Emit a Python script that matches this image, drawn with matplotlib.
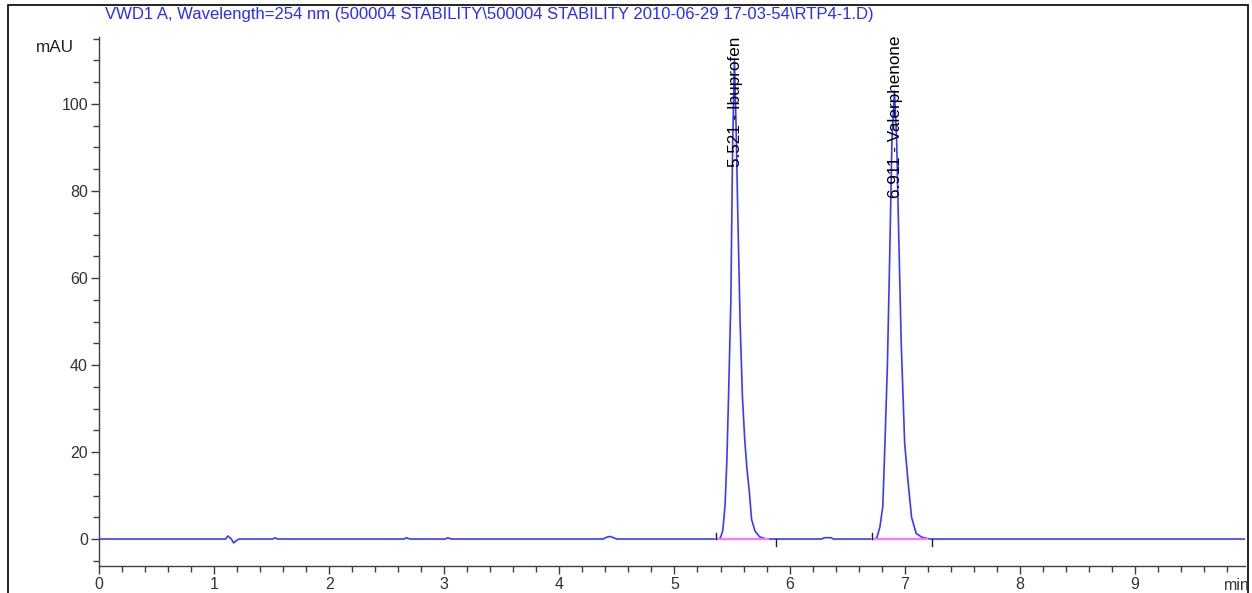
import matplotlib
matplotlib.use("Agg")
import matplotlib.pyplot as plt
from matplotlib.patches import Rectangle
from matplotlib.ticker import MultipleLocator

plt.rcParams['font.family'] = ['Liberation Sans', 'DejaVu Sans']

# signal trace (min, mAU)
trace_t = [0.00, 1.10, 1.12, 1.15, 1.17, 1.20, 1.22, 1.51, 1.53, 1.55,
           2.65, 2.67, 2.70, 3.01, 3.03, 3.06, 4.38, 4.41, 4.44, 4.47, 4.50,
           5.38, 5.40, 5.42, 5.44, 5.455, 5.47, 5.49, 5.505, 5.521, 5.535,
           5.55, 5.57, 5.59, 5.61, 5.63, 5.65, 5.67, 5.70, 5.74, 5.80,
           6.28, 6.30, 6.36, 6.38,
           6.74, 6.76, 6.785, 6.81, 6.83, 6.85, 6.87, 6.89, 6.911, 6.93,
           6.95, 6.97, 7.00, 7.03, 7.06, 7.10, 7.15, 7.22, 9.96]
trace_mau = [0, 0, 0.7, 0, -0.9, -0.2, 0, 0, 0.3, 0,
             0, 0.3, 0, 0, 0.3, 0, 0, 0.4, 0.6, 0.3, 0,
             0, 0.3, 2.0, 8.0, 18, 33, 55, 90, 110, 95,
             75, 50, 33, 23, 16, 11, 4.5, 1.8, 0.5, 0,
             0, 0.3, 0.3, 0,
             0, 0.4, 2.8, 7.5, 23, 40, 65, 92, 103, 92,
             68, 45, 22, 13, 5.0, 1.3, 0.4, 0, 0]

# integrated peaks
peak_rt = [5.521, 6.911]
peak_height = [110, 103]
peak_names = ["Ibuprofen", "Valerphenone"]
base_start = [5.36, 6.72]
base_end = [5.88, 7.235]
base_pink_end = [5.81, 7.19]

title = "VWD1 A, Wavelength=254 nm (500004 STABILITY\\500004 STABILITY 2010-06-29 17-03-54\\RTP4-1.D)"

W, H = 1252, 593
fig = plt.figure(figsize=(W / 100, H / 100), dpi=100)

# outer frame of the report page
fig.patches.append(Rectangle((8 / W, -0.1), (1248 - 8) / W, 1.1 - 5 / H,
                             transform=fig.transFigure, fill=False,
                             edgecolor='black', linewidth=1.2))

ax = fig.add_axes([99 / W, (H - 566) / H, (1245 - 99) / W, (566 - 37) / H])
ax.set_xlim(0, 9.957)
ax.set_ylim(-6.2, 115.4)

ax.plot(trace_t, trace_mau, color='#3a3aff', linewidth=1.2, zorder=3)

for rt, h, name, s, e, pe in zip(peak_rt, peak_height, peak_names,
                                 base_start, base_end, base_pink_end):
    ax.plot([s, pe], [0, 0], color='#ff77ff', linewidth=1.6, zorder=4)
    ax.plot([s, s], [0, 1.4], color='#222222', linewidth=1.0, zorder=5)
    ax.plot([e, e], [0, -1.5], color='#222222', linewidth=1.0, zorder=5)
    ax.text(rt + 0.01, h - 24.5, "%.3f - %s" % (rt, name), rotation=90,
            ha='center', va='bottom', fontsize=12.3, color='#000000', zorder=6)

for sp in ['top', 'right']:
    ax.spines[sp].set_visible(False)
for sp in ['left', 'bottom']:
    ax.spines[sp].set_color('#404040')
    ax.spines[sp].set_linewidth(1.0)

ax.xaxis.set_major_locator(MultipleLocator(1))
ax.xaxis.set_minor_locator(MultipleLocator(0.2))
ax.yaxis.set_major_locator(MultipleLocator(20))
ax.yaxis.set_minor_locator(MultipleLocator(5))
ax.tick_params(which='major', length=6, width=1, color='#404040',
               labelsize=11.5, labelcolor='#333333', pad=2)
ax.tick_params(which='minor', length=4, width=1, color='#404040')
ax.set_yticks([0, 20, 40, 60, 80, 100])
ax.set_xticks(range(10))

fig.text(55 / W, 1 - 47 / H, "mAU", ha='center', va='center',
         fontsize=12.3, color='#222222')
fig.text(1237 / W, 1 - 585 / H, "min", ha='center', va='center',
         fontsize=11.5, color='#333333')
fig.text(105 / W, 1 - 14 / H, title, ha='left', va='center',
         fontsize=12, color='#2b2bff')

fig.savefig("out.png", dpi=100)
